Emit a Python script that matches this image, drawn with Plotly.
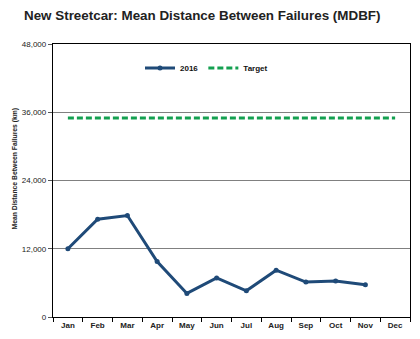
import plotly.graph_objects as go

months = ["Jan", "Feb", "Mar", "Apr", "May", "Jun", "Jul", "Aug", "Sep", "Oct", "Nov", "Dec"]
mdbf_2016 = [12000, 17200, 17850, 9750, 4150, 6860, 4610, 8230, 6150, 6330, 5670, None]
target = [35000] * 12
y_ticks = [0, 12000, 24000, 36000, 48000]
y_tick_labels = ["0", "12,000", "24,000", "36,000", "48,000"]

FONT = "Liberation Sans, Arial, sans-serif"

fig = go.Figure()
fig.add_trace(go.Scatter(
    x=months, y=mdbf_2016, name="2016", mode="lines+markers",
    line=dict(color="#1f4a78", width=3), marker=dict(size=5, color="#1f4a78"),
))
fig.add_trace(go.Scatter(
    x=months, y=target, name="Target", mode="lines",
    line=dict(color="#14a050", width=3, dash="6px,3px"),
))

fig.update_layout(
    width=420, height=339,
    margin=dict(l=53, r=10, t=44, b=22, autoexpand=False),
    paper_bgcolor="white", plot_bgcolor="white",
    title=dict(text="<b>New Streetcar: Mean Distance Between Failures (MDBF)</b>",
               x=24 / 420, xanchor="left", y=1 - 15 / 339, yanchor="middle",
               font=dict(family=FONT, size=13.4, color="#222")),
    font=dict(family=FONT, size=8, color="#222"),
    legend=dict(orientation="h", x=(140 - 53) / 357, y=(317 - 68) / 273,
                xanchor="left", yanchor="middle",
                font=dict(family=FONT, size=8, color="#111", weight="bold"),
                bgcolor="rgba(0,0,0,0)", itemwidth=30),
    showlegend=True,
    annotations=[dict(
        text="<b>Mean Distance Between Failures (km)</b>", textangle=-90,
        xref="paper", yref="paper", x=(14.5 - 53) / 357, y=(317 - 169) / 273,
        xanchor="center", yanchor="middle", showarrow=False,
        font=dict(family=FONT, size=6.8, color="#222"),
    )],
)
fig.update_xaxes(
    type="category", categoryorder="array", categoryarray=months,
    range=[-0.5, 11.5], tickson="boundaries", ticks="outside", ticklen=4,
    tickcolor="black", showline=True, linecolor="black", linewidth=1.3,
    mirror=True, showgrid=False,
    tickvals=months, ticktext=[f"<b>{m}</b>" for m in months],
    tickfont=dict(family=FONT, size=8, color="#222"),
)
fig.update_yaxes(
    range=[0, 48000], tickvals=y_ticks, ticktext=y_tick_labels,
    ticks="outside", ticklen=4, tickcolor="#555",
    showline=True, linecolor="black", linewidth=1.3, mirror=True,
    showgrid=True, gridcolor="#808080", gridwidth=1, zeroline=False,
    tickfont=dict(family=FONT, size=8, color="#222"),
)

fig.write_html("out.html")
